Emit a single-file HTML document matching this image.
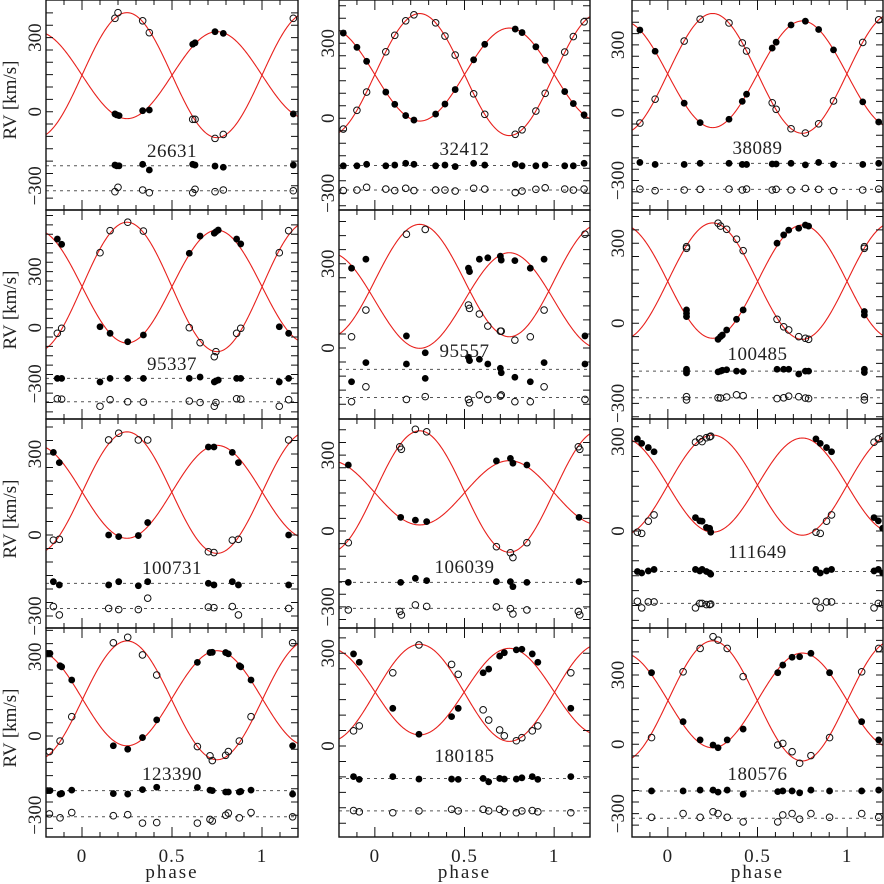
<!DOCTYPE html>
<html><head><meta charset="utf-8"><style>
html,body{margin:0;padding:0;background:#fff}
svg{display:block}
text{font-family:"Liberation Serif",serif;fill:#222}
</style></head><body>
<svg id="chart" width="884" height="884" viewBox="0 0 884 884" xmlns="http://www.w3.org/2000/svg">
<rect x="0" y="0" width="884" height="884" fill="#fff"/>
</svg>
<script>
// ---- data ----
const panelNames = ['26631','32412','38089','95337','95557','100485','100731','106039','111649','123390','180185','180576'];
const gammaPrim = [148,175,170,220,169,156,160,151,154,143,176,190];
const kPrim     = [176,186,236,302,170,212,172,127,158,180,140,205];
const gammaSec  = [148,175,174,218,240,158,157,156,154,135,172,188];
const kSec      = [253,244,265,346,200,218,225,240,168,225,157,260];
const resPrimLevel = [-219,-189,-224,-271,-76,-179,-179,-203,-136,-207,-105,-202];
const resSecLevel  = [-320,-287,-339,-396,-176,-279,-272,-306,-243,-306,-210,-320];
const yTickLabels = [300,0,-300];
const xTickLabels = [0,0.5,1];

const phase1 = [0.183,0.193,0.2,0.206,0.337,0.374,0.615,0.628,0.739,0.785,1.174];
const prim1  = [-9,-13,null,-16,4,7,273,279,324,317,-9];
const sec1   = [378,null,401,null,368,320,-31,-31,-108,-92,378];
const primRes1 = [-216,-219,null,-219,-213,-236,-213,-216,-220,-225,-216];
const secRes1  = [-324,null,-306,null,-317,-328,-328,-314,-324,-317,-320];

const phase2 = [-0.176,-0.1,-0.046,0.061,0.111,0.172,0.218,0.339,0.391,0.448,0.551,0.613,0.783,0.821,0.898,0.95,1.059,1.107,1.167];
const prim2  = [341,284,228,105,56,11,-7,17,57,115,234,296,357,343,286,232,107,59,14];
const sec2   = [-43,32,105,266,332,390,414,382,329,253,98,16,-64,-46,29,100,265,327,386];
const primRes2 = [-190,-190,-184,-190,-187,-180,-184,-190,-187,-193,-180,-187,-184,-190,-190,-187,-190,-190,-180];
const secRes2  = [-289,-287,-276,-283,-289,-280,-289,-287,-287,-291,-280,-283,-297,-291,-284,-278,-283,-287,-283];

const phase3 = [-0.156,-0.071,0.091,0.18,0.341,0.415,0.439,0.582,0.604,0.687,0.767,0.841,0.924,1.087,1.176];
const prim3  = [366,272,42,-44,-29,50,82,286,312,388,405,368,278,48,-41];
const sec3   = [-46,60,317,414,397,309,273,44,15,-71,-90,-49,52,311,411];
const primRes3 = [-220,-229,-229,-224,-224,-229,-229,-227,-227,-224,-231,-220,-229,-229,-224];
const secRes3  = [-338,-345,-342,-339,-338,-342,-338,-342,-339,-342,-335,-339,-345,-342,-338];

const phase4 = [-0.137,-0.113,0.1,0.156,0.254,0.341,0.596,0.656,0.735,0.744,0.757,0.859,0.882,1.096,1.148];
const prim4  = [474,446,5,-30,-75,-39,398,490,505,513,522,474,448,5,-30];
const sec4   = [-30,-3,401,519,564,517,0,-80,-155,-128,null,-30,-3,401,519];
const primRes4 = [-271,-271,-290,-271,-271,-271,-271,-264,-290,-285,-280,-271,-271,-290,-271];
const secRes4  = [-380,-382,-420,-385,-396,-398,-392,-400,-420,-400,null,-380,-382,-420,-385];

const phase5 = [-0.13,-0.05,0.176,0.281,0.522,0.528,0.583,0.63,0.7,0.705,0.781,0.867,0.944,1.172];
const prim5  = [284,316,43,-17,284,272,316,321,327,313,311,284,316,43];
const sec5   = [40,135,405,422,153,141,121,78,60,60,28,40,135,405];
const primRes5 = [-120,-52,-57,-108,-33,-45,-40,-57,-72,-88,-104,-120,-52,-57];
const secRes5  = [-191,-138,-183,-173,-183,-195,-167,-183,-171,-167,-191,-191,-138,-183];

const phase6 = [0.104,0.104,0.104,0.28,0.294,0.304,0.328,0.383,0.42,0.609,0.646,0.674,0.73,0.767,0.785,1.096,1.096];
const prim6  = [37,50,25,-60,-50,-44,-25,15,50,300,331,349,356,368,364,44,31];
const sec6   = [287,281,null,375,364,null,352,315,272,15,-13,-25,-50,-56,-60,287,281];
const primRes6 = [-172,-179,-186,-182,-179,-176,-174,-179,-181,-172,-172,-172,-190,-179,-179,-172,-184];
const secRes6  = [-275,-287,null,-279,-280,null,-276,-268,-271,-282,-279,-273,-275,-280,-282,-275,-287];

const phase7 = [-0.159,-0.126,0.148,0.204,0.313,0.365,0.702,0.733,0.835,0.869,1.148];
const prim7  = [306,268,0,-6,-2,46,326,326,306,268,0];
const sec7   = [-19,-16,352,377,352,352,-62,-65,-19,-16,352];
const primRes7 = [-173,-185,-185,-173,-188,-173,-179,-185,-173,-185,-185];
const secRes7  = [-265,-296,-272,-276,-276,-234,-267,-269,-265,-296,-272];

const phase8 = [-0.148,0.139,0.144,0.148,0.226,0.289,0.678,0.756,0.77,0.848,1.135,1.139,1.143];
const prim8  = [261,null,54,null,43,37,277,287,268,261,null,54,null];
const sec8   = [-46,333,null,323,402,392,-62,-86,-105,-46,333,null,323];
const primRes8 = [-203,null,-203,null,-187,-196,-200,-200,-220,-203,null,-200,null];
const secRes8  = [-312,-318,null,-332,-292,-298,-300,-307,-328,-312,-318,null,-332];

const phase9 = [-0.17,-0.146,-0.109,-0.077,0.154,0.178,0.191,0.215,0.233,0.239,0.826,0.85,0.885,0.913,1.15,1.174,1.198];
const prim9  = [309,294,280,266,45,34,33,12,9,-4,309,294,280,266,45,34,9];
const sec9   = [-4,-8,33,54,298,309,300,313,316,318,-4,-8,33,54,298,309,316];
const primRes9 = [-136,-141,-134,-129,-129,-134,-129,-136,-141,-145,-129,-141,-134,-129,-134,-129,-141];
const secRes9  = [-236,-258,-238,-238,-258,-243,-243,-247,-247,-245,-236,-258,-238,-238,-258,-243,-245];

const phase10 = [-0.19,-0.181,-0.178,-0.122,-0.113,-0.057,0.174,0.254,0.336,0.415,0.641,0.711,0.724,0.798,0.813,0.874,0.882,0.939,1.17];
const prim10  = [313,null,313,266,262,212,-37,-50,-6,61,279,316,317,316,311,266,262,212,-37];
const sec10   = [null,-59,null,-19,null,73,353,374,307,231,-40,-75,-93,-73,-59,-19,null,73,353];
const primRes10 = [-207,null,-207,-220,-218,-205,-218,-220,-203,-194,-195,-205,-207,-212,-212,-212,-210,-205,-220];
const secRes10  = [null,-295,null,-310,null,-290,-302,-298,-330,-328,-330,-316,-322,-300,-292,-310,null,-290,-306];

const phase11 = [-0.119,-0.087,0.1,0.246,0.428,0.465,0.604,0.635,0.696,0.722,0.789,0.82,0.878,0.909,1.093];
const prim11  = [298,271,122,38,95,122,237,249,291,302,311,313,298,271,122];
const sec11   = [49,65,237,327,264,232,117,84,52,33,17,27,49,65,237];
const primRes11 = [-99,-108,-99,-107,-107,-108,-105,-116,-105,-107,-107,-103,-99,-108,-99];
const secRes11  = [-209,-213,-216,-210,-205,-210,-205,-210,-205,-213,-216,-210,-209,-213,-216];

const phase12 = [-0.091,0.085,0.18,0.252,0.28,0.331,0.42,0.613,0.641,0.693,0.735,0.798,0.902,1.081,1.176];
const prim12  = [310,98,19,-3,-15,19,66,310,343,377,379,394,310,98,19];
const sec12   = [29,314,415,466,451,415,293,-3,4,-32,-82,-49,29,314,415];
const primRes12 = [-202,-202,-198,-198,-207,-198,-216,-205,-202,-202,-210,-198,-202,-202,-198];
const secRes12  = [-316,-300,-316,-292,-300,-316,-336,-336,-306,-300,-324,-300,-316,-300,-316];

const phases = [phase1,phase2,phase3,phase4,phase5,phase6,phase7,phase8,phase9,phase10,phase11,phase12];
const prims = [prim1,prim2,prim3,prim4,prim5,prim6,prim7,prim8,prim9,prim10,prim11,prim12];
const secs = [sec1,sec2,sec3,sec4,sec5,sec6,sec7,sec8,sec9,sec10,sec11,sec12];
const primResAll = [primRes1,primRes2,primRes3,primRes4,primRes5,primRes6,primRes7,primRes8,primRes9,primRes10,primRes11,primRes12];
const secResAll = [secRes1,secRes2,secRes3,secRes4,secRes5,secRes6,secRes7,secRes8,secRes9,secRes10,secRes11,secRes12];

// ---- layout ----
const colLeft = [46,339,632], colRight = [298,590,883];
const rowTop = [0,210,419,628], rowBot = [210,419,628,837];
const zeroY = [111.7,118.3,112.7,327.7,348,323.3,535,531,531,736,746,744.3];
const pxPerUnit = [0.247,0.25,0.226,0.187,0.281,0.267,0.27,0.253,0.298,0.264,0.309,0.231];
const nameCY = [150,148,147,363,350,353,567,566,551,773,755,773];
const yLabelX = [41,334,624];

const NS = 'http://www.w3.org/2000/svg';
const svg = document.getElementById('chart');
function mk(tag, attrs, parent){
  const e = document.createElementNS(NS, tag);
  for (const k in attrs) e.setAttribute(k, attrs[k]);
  (parent||svg).appendChild(e);
  return e;
}

const defs = mk('defs',{});

for (let p = 0; p < 12; p++) {
  const r = Math.floor(p/3), c = p%3;
  const L = colLeft[c], R = colRight[c], T = rowTop[r], B = rowBot[r];
  const xs = ph => L + (ph + 0.2) / 1.4 * (R - L);
  const ys = v => zeroY[p] - v * pxPerUnit[p];

  const g = mk('g',{});
  
  

  const cp = mk('clipPath',{id:'clip'+p}, defs);
  mk('rect',{x:L,y:T,width:R-L,height:B-T}, cp);

  // residual dashed lines
  [resPrimLevel[p], resSecLevel[p]].forEach((lv,i) => {
    const ln = mk('line',{x1:L,x2:R,y1:ys(lv),y2:ys(lv),stroke:'#555','stroke-width':1,'stroke-dasharray':'3,4'}, g);
    
    
  });

  // model curves
  let d1 = '', d2 = '';
  for (let k = 0; k <= 280; k++) {
    const ph = -0.2 + k * 0.005;
    const s = Math.sin(2 * Math.PI * ph);
    d1 += (k ? 'L' : 'M') + xs(ph).toFixed(2) + ',' + ys(gammaPrim[p] - kPrim[p] * s).toFixed(2);
    d2 += (k ? 'L' : 'M') + xs(ph).toFixed(2) + ',' + ys(gammaSec[p] + kSec[p] * s).toFixed(2);
  }
  const c1 = mk('path',{d:d1,fill:'none',stroke:'#e8201c','stroke-width':1.1,'clip-path':'url(#clip'+p+')'}, g);
  
  
  const c2 = mk('path',{d:d2,fill:'none',stroke:'#e8201c','stroke-width':1.1,'clip-path':'url(#clip'+p+')'}, g);
  
  

  // points
  const ph = phases[p];
  for (let i = 0; i < ph.length; i++) {
    const x = xs(ph[i]);
    if (secs[p][i] !== null) {
      const o = mk('circle',{cx:x,cy:ys(secs[p][i]),r:3.3,fill:'none',stroke:'#111','stroke-width':1,'clip-path':'url(#clip'+p+')'}, g);
      
      
    }
    if (secResAll[p][i] !== null) {
      const o = mk('circle',{cx:x,cy:ys(secResAll[p][i]),r:3.3,fill:'none',stroke:'#111','stroke-width':1,'clip-path':'url(#clip'+p+')'}, g);
      
      
    }
    if (prims[p][i] !== null) {
      const f = mk('circle',{cx:x,cy:ys(prims[p][i]),r:3.4,fill:'#000','clip-path':'url(#clip'+p+')'}, g);
      
      
    }
    if (primResAll[p][i] !== null) {
      const f = mk('circle',{cx:x,cy:ys(primResAll[p][i]),r:3.4,fill:'#000','clip-path':'url(#clip'+p+')'}, g);
      
      
    }
  }

  // ticks
  let td = '';
  for (let k = 0; k <= 14; k++) {
    const v = -0.2 + k * 0.1;
    const x = xs(v);
    const major = Math.abs(v) < 1e-6 || Math.abs(v - 0.5) < 1e-6 || Math.abs(v - 1) < 1e-6;
    const len = major ? 10 : 5;
    td += 'M' + x + ',' + B + 'v' + (-len) + 'M' + x + ',' + T + 'v' + len;
  }
  for (let v = -600; v <= 800; v += 50) {
    const y = ys(v);
    if (y <= T + 1 || y >= B - 1) continue;
    td += 'M' + L + ',' + y + 'h7M' + R + ',' + y + 'h-7';
  }
  const tk = mk('path',{d:td,stroke:'#111','stroke-width':1,fill:'none'}, g);
  
  

  // frame
  const fr = mk('rect',{x:L,y:T,width:R-L,height:B-T,fill:'none',stroke:'#111','stroke-width':1.4}, g);
  
  

  // y tick labels
  yTickLabels.forEach(v => {
    const y = ys(v);
    if (y < T + 12 || y > B - 12) return;
    const t = mk('text',{x:yLabelX[c],y:y,'font-size':19,'text-anchor':'middle',transform:'rotate(-90 '+yLabelX[c]+' '+y+')'}, g);
    t.textContent = v < 0 ? '\u2212' + Math.abs(v) : String(v);
    
    
  });

  if (c === 0) {
    const yl = T + 100;
    const t = mk('text',{x:16,y:yl,'font-size':19,'text-anchor':'middle',transform:'rotate(-90 16 '+yl+')'}, g);
    t.textContent = 'RV [km/s]';
    
    
  }

  // star name
  const nm = mk('text',{x:xs(0.5),y:nameCY[p]+7,'font-size':19,'text-anchor':'middle','letter-spacing':'0.5'}, g);
  nm.textContent = panelNames[p];
  
  

  if (r === 3) {
    xTickLabels.forEach(v => {
      const t = mk('text',{x:xs(v),y:862,'font-size':19,'text-anchor':'middle','letter-spacing':'1'}, g);
      t.textContent = String(v);
      
      
    });
    const xt = mk('text',{x:xs(0.5),y:878,'font-size':19,'text-anchor':'middle','letter-spacing':'2'}, g);
    xt.textContent = 'phase';
    
    
  }
}
</script>
</body></html>
